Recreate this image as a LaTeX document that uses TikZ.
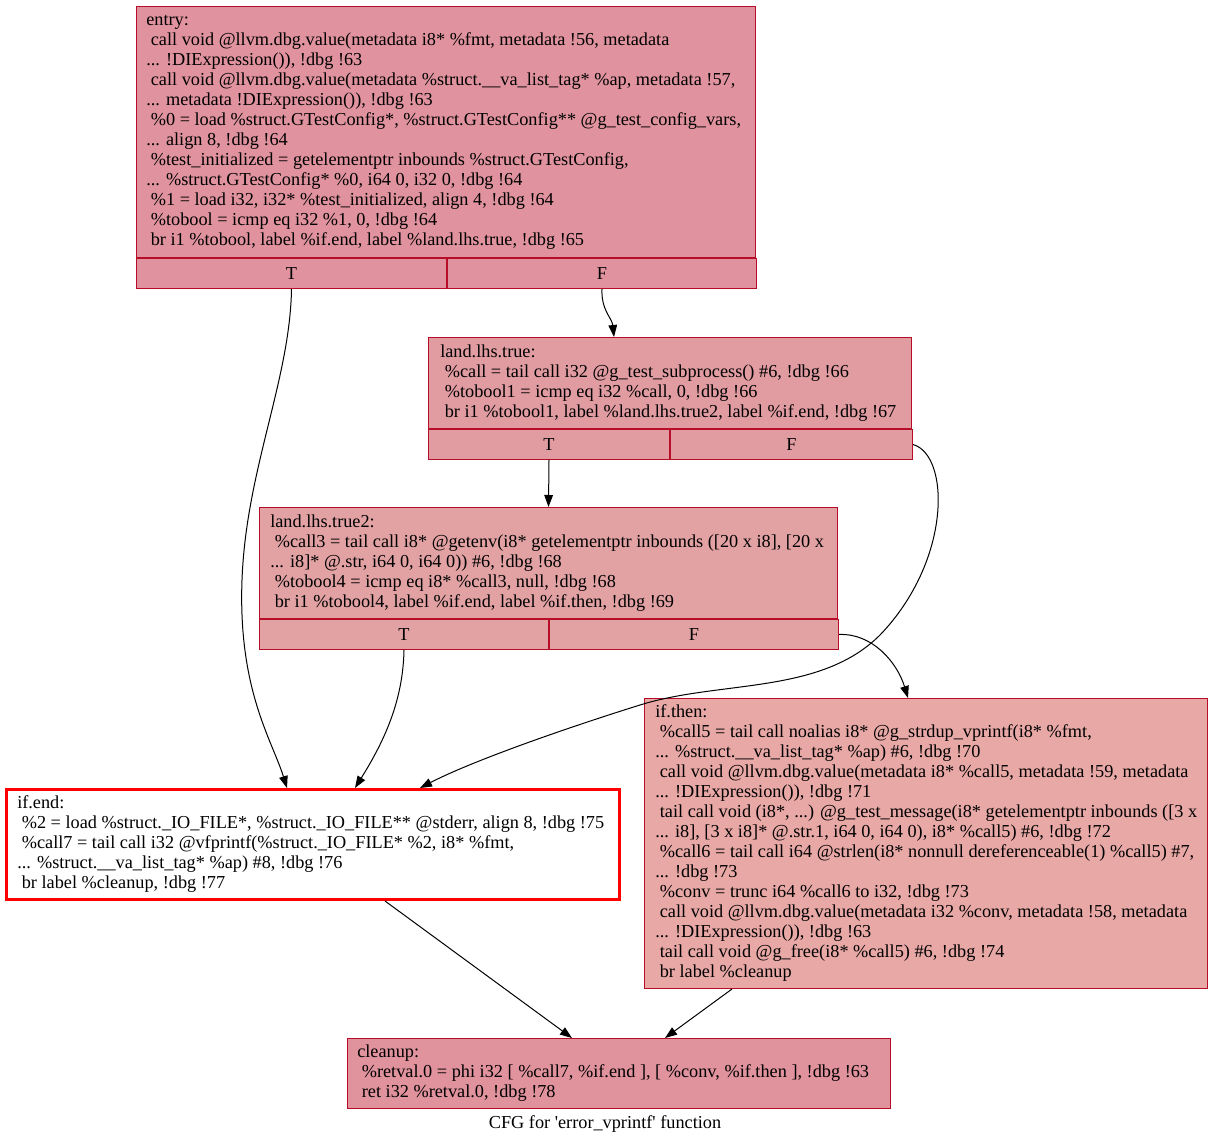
\documentclass[tikz,border=0pt]{standalone}
\usepackage{fontspec}
\setmainfont{Liberation Serif}
\usepackage{tikz}
\usetikzlibrary{arrows.meta,calc}
\definecolor{edgered}{RGB}{183,13,40}
\definecolor{entryfill}{RGB}{224,147,158}
\definecolor{lhsfill}{RGB}{225,156,162}
\definecolor{lhstwofill}{RGB}{226,162,164}
\definecolor{thenfill}{RGB}{232,168,166}
\definecolor{cleanfill}{RGB}{224,146,157}
\newcommand\ind{\hspace*{0.25em}}
\begin{document}
\begin{tikzpicture}[x=0.75pt,y=-0.75pt,font=\fontsize{13.7}{15}\selectfont,>={Triangle[length=9pt,width=6.5pt]},
 blk/.style={draw=edgered,line width=0.75pt,anchor=north west,inner sep=0pt},
 cell/.style={draw=edgered,line width=0.75pt,anchor=north west,inner sep=0pt,minimum height=22.5pt},
 txt/.style={align=left,anchor=west,inner sep=0pt},
 lnk/.style={->,line width=0.75pt}]
 \useasboundingbox (0,0) rectangle (1213,1145);
 \node[blk,fill=entryfill,minimum width=464.25pt,minimum height=188.25pt](entry) at (136,6){};
 \node[txt](entrytxt) at ($(entry.west)+(10,0)$){entry:\\
 \ind call void @llvm.dbg.value(metadata i8* \%fmt, metadata !56, metadata\\
 ... !DIExpression()), !dbg !63\\
 \ind call void @llvm.dbg.value(metadata \%struct.\_\_va\_list\_tag* \%ap, metadata !57,\\
 ... metadata !DIExpression()), !dbg !63\\
 \ind\%0 = load \%struct.GTestConfig*, \%struct.GTestConfig** @g\_test\_config\_vars,\\
 ... align 8, !dbg !64\\
 \ind\%test\_initialized = getelementptr inbounds \%struct.GTestConfig,\\
 ... \%struct.GTestConfig* \%0, i64 0, i32 0, !dbg !64\\
 \ind\%1 = load i32, i32* \%test\_initialized, align 4, !dbg !64\\
 \ind\%tobool = icmp eq i32 \%1, 0, !dbg !64\\
 \ind br i1 \%tobool, label \%if.end, label \%land.lhs.true, !dbg !65};
 \node[cell,fill=entryfill,minimum width=232.5pt](entryT) at (entry.south west){T};
 \node[cell,fill=entryfill,minimum width=231.75pt](entryF) at (entryT.north east){F};

 \node[blk,fill=lhsfill,minimum width=362.25pt,minimum height=68.25pt](lhs) at (428,337){};
 \node[txt](lhstxt) at ($(lhs.west)+(12,0)$){land.lhs.true:\\
 \ind\%call = tail call i32 @g\_test\_subprocess() \#6, !dbg !66\\
 \ind\%tobool1 = icmp eq i32 \%call, 0, !dbg !66\\
 \ind br i1 \%tobool1, label \%land.lhs.true2, label \%if.end, !dbg !67};
 \node[cell,fill=lhsfill,minimum width=180.75pt](lhsT) at (lhs.south west){T};
 \node[cell,fill=lhsfill,minimum width=181.5pt](lhsF) at (lhsT.north east){F};

 \node[blk,fill=lhstwofill,minimum width=433.5pt,minimum height=83.25pt](lhstwo) at (259,507){};
 \node[txt](lhstwotxt) at ($(lhstwo.west)+(11,0)$){land.lhs.true2:\\
 \ind\%call3 = tail call i8* @getenv(i8* getelementptr inbounds ([20 x i8], [20 x\\
 ... i8]* @.str, i64 0, i64 0)) \#6, !dbg !68\\
 \ind\%tobool4 = icmp eq i8* \%call3, null, !dbg !68\\
 \ind br i1 \%tobool4, label \%if.end, label \%if.then, !dbg !69};
 \node[cell,fill=lhstwofill,minimum width=216.75pt](lhstwoT) at (lhstwo.south west){T};
 \node[cell,fill=lhstwofill,minimum width=216.75pt](lhstwoF) at (lhstwoT.north east){F};

 \node[blk,fill=thenfill,minimum width=422.25pt,minimum height=217.5pt](then) at (644,698){};
 \node[txt](thentxt) at ($(then.west)+(11,0)$){if.then:\\
 \ind\%call5 = tail call noalias i8* @g\_strdup\_vprintf(i8* \%fmt,\\
 ... \%struct.\_\_va\_list\_tag* \%ap) \#6, !dbg !70\\
 \ind call void @llvm.dbg.value(metadata i8* \%call5, metadata !59, metadata\\
 ... !DIExpression()), !dbg !71\\
 \ind tail call void (i8*, ...) @g\_test\_message(i8* getelementptr inbounds ([3 x\\
 ... i8], [3 x i8]* @.str.1, i64 0, i64 0), i8* \%call5) \#6, !dbg !72\\
 \ind\%call6 = tail call i64 @strlen(i8* nonnull dereferenceable(1) \%call5) \#7,\\
 ... !dbg !73\\
 \ind\%conv = trunc i64 \%call6 to i32, !dbg !73\\
 \ind call void @llvm.dbg.value(metadata i32 \%conv, metadata !58, metadata\\
 ... !DIExpression()), !dbg !63\\
 \ind tail call void @g\_free(i8* \%call5) \#6, !dbg !74\\
 \ind br label \%cleanup};

 \node[blk,draw=red,line width=2.25pt,fill=white,minimum width=459.75pt,minimum height=82.5pt](ifend) at (5,788){};
 \node[txt](ifendtxt) at ($(ifend.west)+(12,0)$){if.end:\\
 \ind\%2 = load \%struct.\_IO\_FILE*, \%struct.\_IO\_FILE** @stderr, align 8, !dbg !75\\
 \ind\%call7 = tail call i32 @vfprintf(\%struct.\_IO\_FILE* \%2, i8* \%fmt,\\
 ... \%struct.\_\_va\_list\_tag* \%ap) \#8, !dbg !76\\
 \ind br label \%cleanup, !dbg !77};

 \node[blk,fill=cleanfill,minimum width=407.25pt,minimum height=52.5pt](cleanup) at (347,1038){};
 \node[txt](cleanuptxt) at ($(cleanup.west)+(10,0)$){cleanup:\\
 \ind\%retval.0 = phi i32 [ \%call7, \%if.end ], [ \%conv, \%if.then ], !dbg !63\\
 \ind ret i32 \%retval.0, !dbg !78};

 \node(caption) at (605,1124){CFG for \textquotesingle error\_vprintf\textquotesingle{} function};

 \draw[lnk](entryT.south) .. controls (290,380) and (246,470) .. (242,580) .. controls (238,690) and (272,740) .. ($(ifend.north west)+(282,0)$);
 \draw[lnk](entryF.south) .. controls (601,310) and (612,318) .. ($(lhs.north west)+(186,0)$);
 \draw[lnk](lhsT.south) -- (lhstwo.north);
 \draw[lnk](lhsF.east) .. controls (950,455) and (952,560) .. (880,635) .. controls (820,695) and (720,680) .. (640,705) .. controls (560,730) and (470,762) .. ($(ifend.north west)+(415,0)$);
 \draw[lnk](lhstwoT.south) .. controls (403,700) and (385,740) .. ($(ifend.north west)+(350,0)$);
 \draw[lnk](lhstwoF.east) .. controls (872,633) and (897,662) .. ($(then.north west)+(264,0)$);
 \draw[lnk]($(ifend.south west)+(380,0)$) -- ($(cleanup.north west)+(225,0)$);
 \draw[lnk]($(then.south west)+(88,0)$) -- ($(cleanup.north west)+(318,0)$);
\end{tikzpicture}
\end{document}
